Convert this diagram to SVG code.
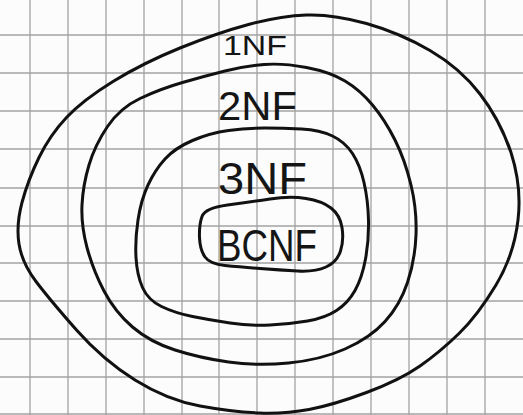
<svg xmlns="http://www.w3.org/2000/svg" width="523" height="415" viewBox="0 0 523 415">
<style>
.grid{stroke:#a3a3a3;stroke-width:1.3;fill:none}
.loop{stroke:#111;stroke-width:3;fill:none;stroke-linejoin:round;stroke-linecap:round}
.lbl{font-family:"Liberation Sans","DejaVu Sans",sans-serif;fill:#151515}
</style>
<rect width="523" height="415" fill="#fcfcfc"/>
<path class="grid" d="M30 0V415M68 0V415M106 0V415M144 0V415M182 0V415M219 0V415M257 0V415M295 0V415M333 0V415M371 0V415M409 0V415M447 0V415M485 0V415M0 35H523M0 73H523M0 111H523M0 149H523M0 188H523M0 226H523M0 263H523M0 301H523M0 339H523M0 377H523M0 414H523"/>
<g id="nf1">
<path class="loop" d="M 306.5 15 Q 333 14 366.5 23.5 Q 400 33 430 50.5 Q 460 68 480 94 Q 500 120 511 152.5 Q 522 187 518 220 Q 514 255 496 285 Q 478 315 459 333.5 Q 440 352 420 366 Q 400 380 366.5 392.5 Q 333 405 309 409.5 Q 285 414 259 413 Q 233 412 200 406 Q 167 400 135 380 Q 103 360 76.5 330 Q 50 300 36 281.5 Q 22 263 19 244 Q 16 225 22 202.5 Q 28 180 39 157.5 Q 50 135 66.5 117.5 Q 83 100 113 81.5 Q 143 63 180 48 Q 217 33 248.5 24.5 Q 280 16 306.5 15 Z"/>
<text class="lbl" x="223" y="55" font-size="27" textLength="64" lengthAdjust="spacingAndGlyphs">1NF</text>
</g>
<g id="nf2">
<path class="loop" d="M 264 64.5 Q 283 63 306.5 67.5 Q 330 72 345 81 Q 360 90 372.5 105 Q 385 120 395 140 Q 405 160 411 185 Q 417 210 416 235 Q 415 260 407.5 282.5 Q 400 305 385 321.5 Q 370 338 345 349 Q 320 360 288.5 363 Q 257 366 228.5 362 Q 200 358 175 350 Q 150 342 132.5 327 Q 115 312 104 291 Q 93 270 87 247.5 Q 81 225 82 205 Q 83 185 89 165 Q 95 145 107.5 126.5 Q 120 108 140 98.5 Q 160 89 182.5 82.5 Q 205 76 225 71 Q 245 66 264 64.5 Z"/>
<text class="lbl" x="218" y="120" font-size="40" textLength="79" lengthAdjust="spacingAndGlyphs">2NF</text>
</g>
<g id="nf3">
<path class="loop" d="M 265 128 Q 283 128 301.5 129 Q 320 130 332.5 136 Q 345 142 352.5 153.5 Q 360 165 364 182.5 Q 368 200 368.5 220 Q 369 240 365.5 259 Q 362 278 355 290.5 Q 348 303 336.5 310.5 Q 325 318 307.5 321 Q 290 324 270 325 Q 250 326 230 323 Q 210 320 192.5 316.5 Q 175 313 161.5 306.5 Q 148 300 142.5 287.5 Q 137 275 136 257.5 Q 135 240 138 220 Q 141 200 148 185 Q 155 170 165 159 Q 175 148 192.5 140.5 Q 210 133 228.5 130.5 Q 247 128 265 128 Z"/>
<text class="lbl" x="218" y="194" font-size="44" textLength="89" lengthAdjust="spacingAndGlyphs">3NF</text>
</g>
<g id="bcnf">
<path class="loop" d="M 227.5 205 Q 250 202 270 199 Q 290 196 306 198.5 Q 322 201 331 208 Q 340 215 342 227.5 Q 344 240 340.5 251 Q 337 262 326 267 Q 315 272 297.5 271 Q 280 270 260 268.5 Q 240 267 225 265.5 Q 210 264 205 257 Q 200 250 199.5 237.5 Q 199 225 202 216.5 Q 205 208 227.5 205 Z"/>
<text class="lbl" x="217" y="261" font-size="44" textLength="100" lengthAdjust="spacingAndGlyphs">BCNF</text>
</g>
</svg>
